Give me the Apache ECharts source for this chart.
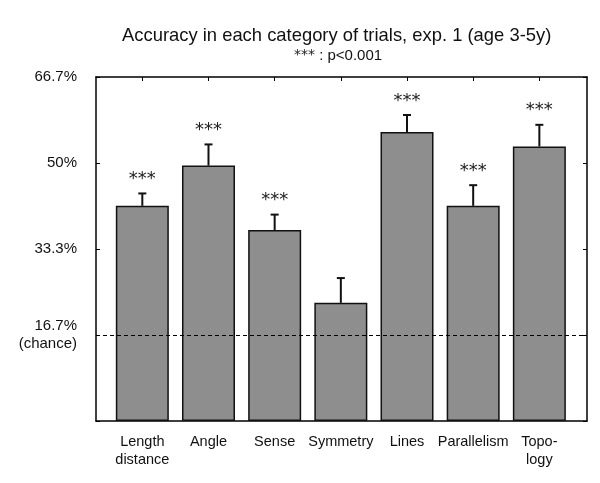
<!DOCTYPE html>
<html>
<head>
<meta charset="utf-8">
<script src="https://cdn.jsdelivr.net/npm/echarts@6/dist/echarts.min.js"></script>
<style>
  html, body { margin: 0; padding: 0; background: #fff; }
  #chart { width: 600px; height: 483px; }
</style>
</head>
<body>
<div id="chart"></div>
<script>
// categories along x
const categories = ['Length\ndistance', 'Angle', 'Sense', 'Symmetry', 'Lines', 'Parallelism', 'Topo-\nlogy'];
// mean accuracy (%) and top of the error bar (%)
const means = [41.7, 49.5, 37.0, 22.9, 56.0, 41.7, 53.2];
const upper = [44.1, 53.6, 40.0, 27.7, 59.3, 45.7, 57.4];
const stars = ['***', '***', '***', '', '***', '***', '***'];
// y tick labels
const yLabels = { '16.7': '16.7%\n(chance)', '33.3': '33.3%', '50.0': '50%', '66.7': '66.7%' };
const chance = 100 / 6;

const idx = categories.map((c, i) => i);
const myChart = echarts.init(document.getElementById('chart'));
const font = 'Liberation Sans, Arial, sans-serif';
const frame = { show: true, onZero: false, lineStyle: { color: '#000', width: 1.5 } };

myChart.setOption({
  animation: false,
  backgroundColor: '#fff',
  title: [
    { text: 'Accuracy in each category of trials, exp. 1 (age 3-5y)', left: 117, top: 22,
      textStyle: { fontFamily: font, fontSize: 18.4, fontWeight: 'normal', color: '#111' } },
    { text: '{s|***} : p<0.001', left: 289, top: 43,
      textStyle: { fontFamily: font, fontSize: 15, fontWeight: 'normal', color: '#111',
        rich: { s: { fontFamily: 'DejaVu Sans', fontSize: 14, color: '#222' } } } }
  ],
  grid: { left: 96, right: 13, top: 77, bottom: 62 },
  xAxis: [{
    type: 'value', position: 'bottom', min: -0.7, max: 6.72,
    splitLine: { show: false },
    axisLine: frame,
    axisTick: { show: false },
    axisLabel: {
      customValues: idx, margin: 12,
      formatter: v => categories[Math.round(v)],
      fontFamily: font, fontSize: 14.5, color: '#111', lineHeight: 18
    }
  }, {
    type: 'value', position: 'top', min: -0.7, max: 6.72,
    splitLine: { show: false },
    axisLine: frame,
    axisTick: { customValues: idx, inside: true, length: 4, lineStyle: { color: '#000' } },
    axisLabel: { show: false }
  }],
  yAxis: [{
    type: 'value', position: 'left', min: 0, max: 4 * chance, interval: chance,
    splitLine: { show: false },
    axisLine: frame,
    axisTick: { inside: true, length: 4, lineStyle: { color: '#000' } },
    axisLabel: {
      margin: 19, fontFamily: font, fontSize: 15, color: '#111', lineHeight: 18,
      formatter: v => yLabels[v.toFixed(1)] || ''
    }
  }, {
    type: 'value', position: 'right', min: 0, max: 4 * chance, interval: chance,
    splitLine: { show: false },
    axisLine: frame,
    axisTick: { inside: true, length: 4, lineStyle: { color: '#000' } },
    axisLabel: { show: false }
  }],
  series: [{
    type: 'bar',
    barWidth: 53,
    data: means.map((m, i) => [i, m]),
    itemStyle: { color: '#8e8e8e', borderColor: '#111', borderWidth: 1.5 },
    markLine: {
      silent: true, symbol: 'none', label: { show: false },
      lineStyle: { color: '#000', type: [4, 3], width: 1 },
      data: [{ yAxis: chance }]
    },
    z: 2
  }, {
    type: 'custom',
    data: means.map((m, i) => [i, m, upper[i]]),
    renderItem: function (params, api) {
      const base = api.coord([api.value(0), api.value(1)]);
      const top = api.coord([api.value(0), api.value(2)]);
      const children = [
        { type: 'line', shape: { x1: base[0], y1: base[1], x2: top[0], y2: top[1] },
          style: { stroke: '#111', lineWidth: 2 } },
        { type: 'line', shape: { x1: top[0] - 4, y1: top[1], x2: top[0] + 4, y2: top[1] },
          style: { stroke: '#111', lineWidth: 2 } }
      ];
      const s = stars[params.dataIndex];
      if (s) {
        children.push({ type: 'text', x: top[0], y: top[1] - 14,
          style: { text: s, textAlign: 'center', textVerticalAlign: 'middle',
            fontFamily: 'DejaVu Sans', fontSize: 18, fill: '#222' } });
      }
      return { type: 'group', children: children };
    },
    z: 3
  }]
});
</script>
</body>
</html>
